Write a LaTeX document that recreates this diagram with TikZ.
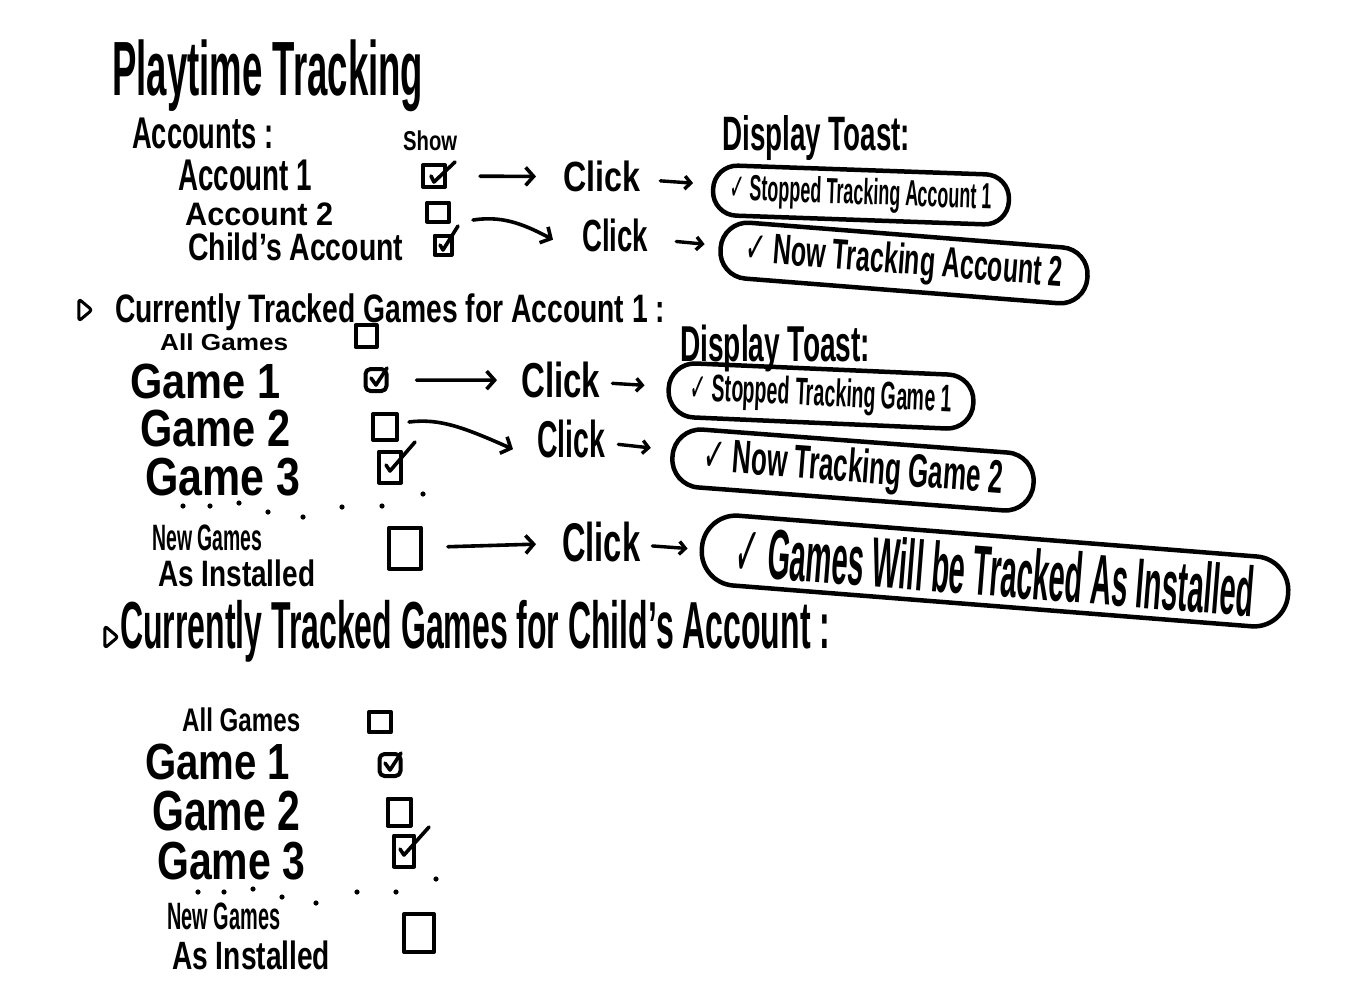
\documentclass[tikz,border=0pt]{standalone}
\usepackage{fontspec}
\setmainfont{Liberation Sans}
\newfontfamily\dejavu{DejaVu Sans}
\usepackage{graphicx}
\usetikzlibrary{arrows.meta,calc,shapes.geometric}
\newcommand{\tx}[3]{\resizebox*{#1pt}{#2pt}{\bfseries #3}}
\newcommand{\ck}{{\dejavu\bfseries ✓}}
\begin{document}
\begin{tikzpicture}[x=1pt,y=-1pt,
 ink/.style={line width=4pt, line cap=round, line join=round},
 txt/.style={inner sep=0pt, anchor=north west},
 cbox/.style={draw, ink, rectangle, inner sep=0pt},
 tickmark/.style={ink, line width=3.6pt},
 arr/.style={ink, line width=3.6pt, -{Straight Barb[length=8pt,width=18pt]}},
 sarr/.style={ink, line width=3.4pt, -{Straight Barb[length=6pt,width=13pt]}},
 toast/.style={draw, line width=4.5pt, rectangle, inner sep=0pt},
 marker/.style={draw, isosceles triangle, isosceles triangle apex angle=80, line width=3pt, inner sep=0pt, minimum width=13pt, minimum height=13pt, rounded corners=2.5pt, line join=round}]

\fill[white] (0,0) rectangle (1347,986);
\useasboundingbox (0,0) rectangle (1347,986);

% ---------- header ----------
\node[txt] (title) at (112,40) {\tx{311}{72}{Playtime Tracking}};
\node[txt] (accounts) at (132,118) {\tx{141}{31}{Accounts :}};
\node[txt] (show) at (403,131) {\tx{54}{20}{Show}};
\node[txt] (acc1) at (178,160) {\tx{134}{31}{Account 1}};
\node[txt] (acc2) at (185,203) {\tx{148}{23}{Account 2}};
\node[txt] (child) at (188,233) {\tx{215}{28}{Child's Account}};
\node[txt] (dispA) at (722,115) {\tx{188}{45}{Display Toast:}};

% checkboxes (accounts)
\node[cbox, minimum width=22pt, minimum height=22pt] (cbA1) at (434,176) {};
\node[cbox, minimum width=22pt, minimum height=19pt] (cbA2) at (438,212) {};
\node[cbox, minimum width=17pt, minimum height=19pt] (cbA3) at (443,245) {};
\draw[tickmark] ($(cbA1.center)+(-3,0)$) -- ($(cbA1.center)+(0,6)$) -- ($(cbA1.center)+(21,-14)$);
\draw[tickmark] ($(cbA3.center)+(-3,0)$) -- ($(cbA3.center)+(0,5)$) -- ($(cbA3.center)+(15,-19)$);

% clicks and toasts (accounts)
\node[txt] (clickA1) at (563,161) {\tx{77}{31}{Click}};
\node[txt] (clickA2) at (582,219) {\tx{66}{33}{Click}};
\node[toast, rotate=-2, minimum width=296pt, minimum height=50pt, rounded corners=24pt] (toastA1) at (861,195)
  {\tx{262}{34}{\ck\ Stopped Tracking Account 1}};
\node[toast, rotate=-4.5, minimum width=368pt, minimum height=56pt, rounded corners=27pt] (toastA2) at (904,263)
  {\tx{318}{40}{\ck\ Now Tracking Account 2}};

\draw[arr, shorten <=33pt, shorten >=27pt] (cbA1) -- (clickA1);
\draw[arr] ($(cbA2.east)+(22,8)$) .. controls (500,216) and (520,222) .. ($(clickA2.west)+(-29,4)$);
\draw[sarr, shorten <=20pt, shorten >=18pt] (clickA1) -- (toastA1);
\draw[sarr, shorten <=28pt, shorten >=14pt] (clickA2) -- (toastA2);

% ---------- games for account 1 ----------
\node[marker] (m1) at (84,310) {};
\node[txt] (cur1) at (115,294) {\tx{550}{37}{Currently Tracked Games for Account 1 :}};
\node[txt] (allG1) at (160,334) {\tx{128}{17}{All Games}};
\node[txt] (dispG) at (680,325) {\tx{190}{47}{Display Toast:}};
\node[txt] (g1) at (130,364) {\tx{150}{35}{Game 1}};
\node[txt] (g2) at (140,410) {\tx{150}{37}{Game 2}};
\node[txt] (g3) at (145,458) {\tx{155}{38}{Game 3}};
\node[txt] (newA) at (152,525) {\tx{110}{26}{New Games}};
\node[txt] (newB) at (158,560) {\tx{157}{27}{As Installed}};

\node[cbox, minimum width=21pt, minimum height=22pt] (cbG0) at (366,336) {};
\node[cbox, minimum width=21pt, minimum height=22pt, rounded corners=5pt] (cbG1) at (376,380) {};
\node[cbox, minimum width=24pt, minimum height=26pt] (cbG2) at (385,427) {};
\node[cbox, minimum width=22pt, minimum height=31pt] (cbG3) at (390,467) {};
\node[cbox, minimum width=32pt, minimum height=41pt] (cbGN) at (405,548) {};
\draw[tickmark] ($(cbG1.center)+(-5,-2)$) -- ($(cbG1.center)+(0,5)$) -- ($(cbG1.center)+(11,-12)$);
\draw[tickmark] ($(cbG3.center)+(-4,-2)$) -- ($(cbG3.center)+(0,4)$) -- ($(cbG3.center)+(25,-25)$);

\foreach \p in {(183,506),(210,506),(239,503),(268,512),(303,517),(342,507),(382,506),(423,494)}
  \fill \p circle (2.6);

\node[txt] (clickG1) at (521,362) {\tx{79}{36}{Click}};
\node[txt] (clickG2) at (537,420) {\tx{68}{38}{Click}};
\node[txt] (clickGN) at (562,522) {\tx{78}{40}{Click}};
\node[toast, rotate=-2.5, minimum width=305pt, minimum height=54pt, rounded corners=26pt] (toastG1) at (821,396)
  {\tx{262}{36}{\ck\ Stopped Tracking Game 1}};
\node[toast, rotate=-4.3, minimum width=362pt, minimum height=58pt, rounded corners=28pt] (toastG2) at (853,470)
  {\tx{300}{44}{\ck\ Now Tracking Game 2}};
\node[toast, rotate=-4.5, minimum width=588pt, minimum height=70pt, rounded corners=34pt] (toastGN) at (995,571)
  {\tx{520}{52}{\ck\ Games Will be Tracked As Installed}};

\draw[arr, shorten <=28pt, shorten >=24pt] (cbG1) -- (clickG1);
\draw[arr] ($(cbG2.east)+(10,-5)$) .. controls (440,418) and (465,428) .. ($(clickG2.west)+(-24,10)$);
\draw[arr, shorten <=25pt, shorten >=26pt] (cbGN) -- (clickGN);
\draw[sarr, shorten <=12pt, shorten >=22pt] (clickG1) -- (toastG1);
\draw[sarr, shorten <=13pt, shorten >=20pt] (clickG2) -- (toastG2);
\draw[sarr, shorten <=12pt, shorten >=12pt] (clickGN) -- (toastGN);

% ---------- games for child's account ----------
\node[marker] (m2) at (110,637) {};
\node[txt] (cur2) at (120,600) {\tx{710}{62}{Currently Tracked Games for Child's Account :}};
\node[txt] (allG2) at (182,708) {\tx{118}{24}{All Games}};
\node[txt] (g1c) at (145,744) {\tx{145}{36}{Game 1}};
\node[txt] (g2c) at (152,791) {\tx{148}{40}{Game 2}};
\node[txt] (g3c) at (157,842) {\tx{148}{38}{Game 3}};
\node[txt] (newAc) at (167,903) {\tx{113}{27}{New Games}};
\node[txt] (newBc) at (172,941) {\tx{158}{29}{As Installed}};

\node[cbox, minimum width=22pt, minimum height=20pt] (cbC0) at (380,722) {};
\node[cbox, minimum width=21pt, minimum height=22pt, rounded corners=5pt] (cbC1) at (390,765) {};
\node[cbox, minimum width=23pt, minimum height=27pt] (cbC2) at (399,812) {};
\node[cbox, minimum width=20pt, minimum height=31pt] (cbC3) at (404,851) {};
\node[cbox, minimum width=30pt, minimum height=38pt] (cbCN) at (419,933) {};
\draw[tickmark] ($(cbC1.center)+(-5,-2)$) -- ($(cbC1.center)+(0,5)$) -- ($(cbC1.center)+(11,-12)$);
\draw[tickmark] ($(cbC3.center)+(-4,-2)$) -- ($(cbC3.center)+(0,4)$) -- ($(cbC3.center)+(25,-24)$);

\foreach \p in {(198,892),(224,892),(253,889),(282,897),(316,903),(357,892),(396,892),(436,879)}
  \fill \p circle (2.6);
\end{tikzpicture}
\end{document}
